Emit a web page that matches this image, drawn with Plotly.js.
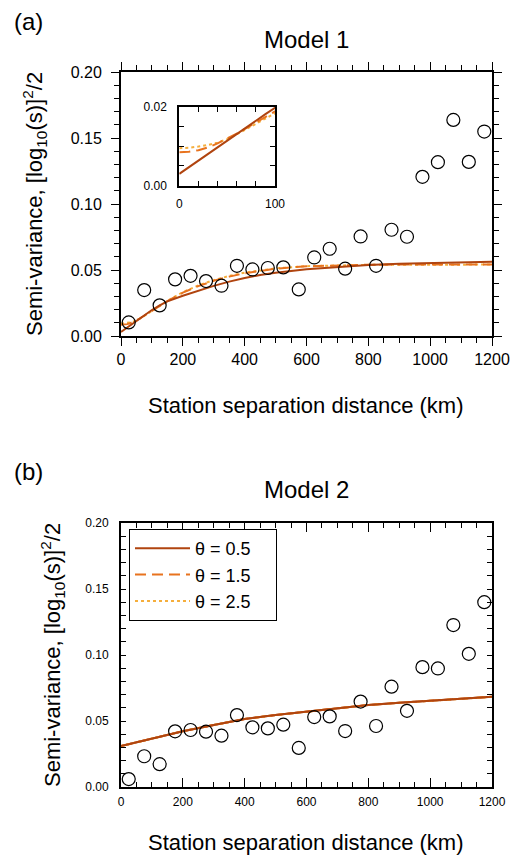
<!DOCTYPE html>
<html>
<head>
<meta charset="utf-8">
<script src="https://cdn.plot.ly/plotly-3.0.1.min.js"></script>
<style>html,body{margin:0;padding:0;background:#fff;}#chart{width:512px;height:856px;}</style>
</head>
<body>
<div id="chart"></div>
<script>
// ---- data ----
const binDistance = [25,75,125,175,225,275,325,375,425,475,525,575,625,675,725,775,825,875,925,975,1025,1075,1125,1175];
const model1Semivar = [0.0103,0.0348,0.0232,0.0429,0.0456,0.0416,0.0381,0.0532,0.0504,0.0515,0.0520,0.0353,0.0595,0.0661,0.0510,0.0754,0.0532,0.0805,0.0752,0.1206,0.1317,0.1637,0.1319,0.1549];
const model2Semivar = [0.0060,0.0233,0.0173,0.0422,0.0432,0.0419,0.0389,0.0545,0.0452,0.0444,0.0472,0.0296,0.0530,0.0535,0.0424,0.0647,0.0462,0.0760,0.0577,0.0908,0.0898,0.1227,0.1009,0.1400];

const fitDistance1 = [0,10,20,30,40,50,60,70,80,90,100,125,150,200,250,300,350,400,450,500,600,700,800,900,1000,1100,1200];
const model1Theta05 = [0.0030,0.0047,0.0064,0.0080,0.0097,0.0114,0.0131,0.0147,0.0164,0.0181,0.0197,0.0232,0.0262,0.0305,0.0345,0.0380,0.0412,0.0440,0.0462,0.0480,0.0505,0.0524,0.0538,0.0547,0.0554,0.0559,0.0563];
const model1Theta15 = [0.0085,0.0086,0.0090,0.0097,0.0107,0.0119,0.0132,0.0146,0.0161,0.0176,0.0190,0.0228,0.0265,0.0328,0.0378,0.0418,0.0450,0.0475,0.0495,0.0510,0.0528,0.0536,0.0540,0.0541,0.0542,0.0542,0.0542];
const model1Theta25 = [0.0095,0.0096,0.0099,0.0103,0.0109,0.0118,0.0130,0.0145,0.0160,0.0175,0.0189,0.0228,0.0266,0.0332,0.0383,0.0423,0.0455,0.0480,0.0498,0.0512,0.0529,0.0536,0.0539,0.0540,0.0541,0.0541,0.0541];

const fitDistance2 = [0,100,200,300,400,500,600,700,800,900,1000,1100,1200];
const model2Theta05 = [0.0310,0.0368,0.0423,0.0470,0.0515,0.0545,0.0572,0.0598,0.0621,0.0638,0.0653,0.0668,0.0683];
const model2Theta15 = [0.0310,0.0368,0.0423,0.0470,0.0515,0.0545,0.0572,0.0598,0.0621,0.0638,0.0653,0.0668,0.0683];
const model2Theta25 = [0.0310,0.0368,0.0423,0.0470,0.0515,0.0545,0.0572,0.0598,0.0621,0.0638,0.0653,0.0668,0.0683];

const thetaLabels = ['θ = 0.5','θ = 1.5','θ = 2.5'];

// ---- styling ----
const FONT = 'Liberation Sans, Arial, Helvetica, sans-serif';
const C05 = '#B0440F', C15 = '#E8731E', C25 = '#F5AE3C';
const W = 512, H = 856;
const px = v => v / W;
const py = v => 1 - v / H;
const PAD = '\u00a0\u00a0\u00a0\u00a0';

const curveStyles = [
  {color: C05, width: 2, dash: 'solid'},
  {color: C15, width: 2, dash: '11px,6px'},
  {color: C25, width: 2, dash: 'dot'}
];

const traces = [];
// panel (a) curves
[[model1Theta25,2],[model1Theta15,1],[model1Theta05,0]].forEach(([ys,i]) => {
  traces.push({x: fitDistance1, y: ys, xaxis:'x', yaxis:'y', mode:'lines', line: curveStyles[i], showlegend:false, hoverinfo:'skip'});
});
traces.push({x: binDistance, y: model1Semivar, xaxis:'x', yaxis:'y', mode:'markers',
  marker:{symbol:'circle-open', size:13, color:'black', line:{width:1.2, color:'black'}}, showlegend:false});
// inset curves
[[model1Theta25,2],[model1Theta15,1],[model1Theta05,0]].forEach(([ys,i]) => {
  traces.push({x: fitDistance1, y: ys, xaxis:'x3', yaxis:'y3', mode:'lines', line: curveStyles[i], showlegend:false, hoverinfo:'skip'});
});
// panel (b)
[[model2Theta05,0],[model2Theta15,1],[model2Theta25,2]].forEach(([ys,i]) => {
  traces.push({x: fitDistance2, y: ys, xaxis:'x2', yaxis:'y2', mode:'lines', line: curveStyles[i], name: thetaLabels[i] + PAD, showlegend:true});
});
// solid drawn on top for panel b
traces.push({x: fitDistance2, y: model2Theta05, xaxis:'x2', yaxis:'y2', mode:'lines', line: curveStyles[0], showlegend:false, hoverinfo:'skip'});
traces.push({x: binDistance, y: model2Semivar, xaxis:'x2', yaxis:'y2', mode:'markers',
  marker:{symbol:'circle-open', size:13, color:'black', line:{width:1.2, color:'black'}}, showlegend:false});

const frame = {showline:true, linecolor:'black', linewidth:2, mirror:'allticks', zeroline:false, showgrid:false, tickcolor:'black'};

const layout = {
  width: W, height: H,
  margin: {l:0, r:0, t:0, b:0},
  paper_bgcolor:'white', plot_bgcolor:'white',
  font: {family: FONT, color:'black'},
  showlegend: true,
  legend: {x: px(129), y: py(529), xanchor:'left', yanchor:'top', bgcolor:'white',
    bordercolor:'black', borderwidth:1, font:{size:18, family:FONT}, tracegroupgap:0, itemwidth:55},
  xaxis: Object.assign({}, frame, {domain:[px(121), px(492)], anchor:'y', range:[0,1200], dtick:200, tick0:0,
    ticks:'outside', ticklen:8, tickwidth:1, tickfont:{size:16},
    minor:{dtick:50, ticks:'outside', ticklen:5, tickcolor:'black', showgrid:false}}),
  yaxis: Object.assign({}, frame, {domain:[py(336), py(72)], anchor:'x', range:[0,0.2], dtick:0.05, tick0:0, tickformat:'.2f',
    ticks:'outside', ticklen:8, tickwidth:1, tickfont:{size:16}, ticklabelstandoff:6,
    minor:{dtick:0.01, ticks:'outside', ticklen:5, tickcolor:'black', showgrid:false}}),
  xaxis2: Object.assign({}, frame, {domain:[px(121), px(492)], anchor:'y2', range:[0,1200], dtick:200, tick0:0,
    ticks:'inside', ticklen:9, tickwidth:1, tickfont:{size:12}, ticklabelstandoff:3,
    minor:{dtick:50, ticks:'inside', ticklen:5, tickcolor:'black', showgrid:false}}),
  yaxis2: Object.assign({}, frame, {domain:[py(787), py(523)], anchor:'x2', range:[0,0.2], dtick:0.05, tick0:0, tickformat:'.2f',
    ticks:'inside', ticklen:5, tickwidth:1, tickfont:{size:12}, ticklabelstandoff:8,
    minor:{dtick:0.01, ticks:'inside', ticklen:5, tickcolor:'black', showgrid:false}}),
  xaxis3: Object.assign({}, frame, {domain:[px(179.3), px(275)], anchor:'y3', range:[0,100],
    tickvals:[0,100], ticktext:['0','100'], ticks:'inside', ticklen:5, tickwidth:1, tickfont:{size:12}, ticklabelstandoff:6,
    minor:{tickvals:[20,40,60,80], ticks:'inside', ticklen:5, tickcolor:'black', showgrid:false}}),
  yaxis3: Object.assign({}, frame, {domain:[py(185.7), py(106.7)], anchor:'x3', range:[0,0.02],
    tickvals:[0,0.02], ticktext:['0.00','0.02'], ticks:'inside', ticklen:5, tickwidth:1, tickfont:{size:12}, ticklabelstandoff:8,
    minor:{tickvals:[0.005,0.01,0.015], ticks:'inside', ticklen:5, tickcolor:'black', showgrid:false}}),
  annotations: [
    {text:'(a)', x:px(28), y:py(22), xref:'paper', yref:'paper', showarrow:false, font:{size:24}, xanchor:'center', yanchor:'middle'},
    {text:'Model 1', x:px(306), y:py(39), xref:'paper', yref:'paper', showarrow:false, font:{size:24}, xanchor:'center', yanchor:'middle'},
    {text:'Station separation distance (km)', x:px(306), y:py(405), xref:'paper', yref:'paper', showarrow:false, font:{size:22}, xanchor:'center', yanchor:'middle'},
    {text:'Semi-variance, [log<sub>10</sub>(s)]<sup>2</sup>/2', x:px(35), y:py(204), xref:'paper', yref:'paper', showarrow:false, font:{size:22}, textangle:-90, xanchor:'center', yanchor:'middle'},
    {text:'(b)', x:px(28), y:py(472), xref:'paper', yref:'paper', showarrow:false, font:{size:24}, xanchor:'center', yanchor:'middle'},
    {text:'Model 2', x:px(306), y:py(489), xref:'paper', yref:'paper', showarrow:false, font:{size:24}, xanchor:'center', yanchor:'middle'},
    {text:'Station separation distance (km)', x:px(306), y:py(842), xref:'paper', yref:'paper', showarrow:false, font:{size:22}, xanchor:'center', yanchor:'middle'},
    {text:'Semi-variance, [log<sub>10</sub>(s)]<sup>2</sup>/2', x:px(52), y:py(655), xref:'paper', yref:'paper', showarrow:false, font:{size:22}, textangle:-90, xanchor:'center', yanchor:'middle'}
  ]
};

Plotly.newPlot('chart', traces, layout, {staticPlot:true, displayModeBar:false});
</script>
</body>
</html>
